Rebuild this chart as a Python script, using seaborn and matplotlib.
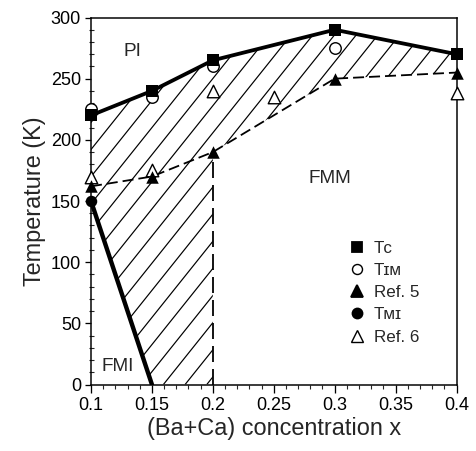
import matplotlib
matplotlib.use('Agg')
import matplotlib.pyplot as plt
import seaborn as sns
from matplotlib.lines import Line2D
from matplotlib.patches import Polygon
from matplotlib.collections import LineCollection

# ---- data ----
tc_x = [0.10, 0.15, 0.20, 0.30, 0.40]
tc_y = [220, 240, 265, 290, 270]
tim_x = [0.10, 0.15, 0.20, 0.30]
tim_y = [225, 235, 260, 275]
ref5_x = [0.10, 0.15, 0.20, 0.30, 0.40]
ref5_y = [162, 170, 190, 250, 255]
tmi_x = [0.10]
tmi_y = [150]
fmi_x = [0.10, 0.15]          # FMI boundary line (TMI -> 0 K)
fmi_y = [150, 0]
ref6_x = [0.10, 0.15, 0.20, 0.25, 0.40]
ref6_y = [170, 175, 240, 235, 238]
boundary_x = 0.20             # vertical dashed boundary
x_ticks = [0.1, 0.15, 0.2, 0.25, 0.3, 0.35, 0.4]
x_ticklabels = ['0.1', '0.15', '0.2', '0.25', '0.3', '0.35', '0.4']
y_ticks = [0, 50, 100, 150, 200, 250, 300]
legend_labels = ['T\u1d04', 'T\u026a\u1d0d', 'Ref. 5', 'T\u1d0d\u026a', 'Ref. 6']
region_labels = ['PI', 'FMM', 'FMI']
region_pos = [(0.1337, 272), (0.296, 168), (0.1218, 15)]

DPI = 130
PX = 72.0 / DPI   # points per pixel

sns.set_style('ticks')
plt.rcParams['font.family'] = ['Liberation Sans', 'DejaVu Sans']
plt.rcParams['lines.scale_dashes'] = False

fig = plt.figure(figsize=(476 / DPI, 451 / DPI), dpi=DPI)
ax = fig.add_axes([91 / 476, 1 - 384.5 / 451, 365.5 / 476, 367 / 451])
ax.set_xlim(0.1, 0.4)
ax.set_ylim(0, 300)

# hatched region (between Tc and the lower phase boundaries)
lower_x = [x for x in ref5_x[::-1] if x >= boundary_x]
lower_y = [y for x, y in zip(ref5_x[::-1], ref5_y[::-1]) if x >= boundary_x]
poly_x = tc_x + lower_x + [boundary_x, fmi_x[1], fmi_x[0]]
poly_y = tc_y + lower_y + [0, fmi_y[1], fmi_y[0]]
region = Polygon(list(zip(poly_x, poly_y)), closed=True, facecolor='none',
                 edgecolor='none', transform=ax.transData)
ax.add_patch(region)
# hatch styling: slanted lines (slope & spacing are style constants)
h_slope = 1245.0      # K per unit x
h_step = 0.01781      # horizontal spacing
h_phase = 0.15943
segs = []
for k in range(-20, 16):
    x0 = h_phase + k * h_step
    segs.append([(x0, 0), (x0 + 300 / h_slope, 300)])
hatch = LineCollection(segs, colors='black', linewidths=1.2 * PX, zorder=1)
ax.add_collection(hatch)
hatch.set_clip_path(region)

# lines
sns.lineplot(x=tc_x, y=tc_y, ax=ax, color='black', lw=3.8 * PX, sort=False,
             zorder=3, clip_on=False)
sns.lineplot(x=fmi_x, y=fmi_y, ax=ax, color='black', lw=4.4 * PX, sort=False,
             zorder=3)
sns.lineplot(x=ref5_x, y=ref5_y, ax=ax, color='black', lw=1.8 * PX, sort=False,
             linestyle=(0, (11 * PX, 5 * PX)), zorder=3)
ax.plot([boundary_x, boundary_x], [0, ref5_y[2]], color='black', lw=1.8 * PX,
        linestyle=(0, (16 * PX, 7 * PX)), zorder=3)

# markers
ms = 11.5 * PX
ew = 1.4 * PX
sns.scatterplot(x=tc_x, y=tc_y, ax=ax, marker='s', s=ms ** 2, color='black',
                edgecolor='black', linewidth=0, zorder=5, clip_on=False)
sns.scatterplot(x=tim_x, y=tim_y, ax=ax, marker='o', s=ms ** 2, facecolor='white',
                edgecolor='black', linewidth=ew, zorder=4, clip_on=False)
sns.scatterplot(x=ref5_x, y=ref5_y, ax=ax, marker='^', s=(12.5 * PX) ** 2,
                color='black', edgecolor='black', linewidth=0, zorder=5,
                clip_on=False)
sns.scatterplot(x=tmi_x, y=tmi_y, ax=ax, marker='o', s=ms ** 2, color='black',
                edgecolor='black', linewidth=0, zorder=5, clip_on=False)
sns.scatterplot(x=ref6_x, y=ref6_y, ax=ax, marker='^', s=(12.5 * PX) ** 2,
                facecolor='white', edgecolor='black', linewidth=ew, zorder=4,
                clip_on=False)

# region labels
for lab, (x, y) in zip(region_labels, region_pos):
    ax.text(x, y, lab, fontsize=19 * PX, ha='center', va='center', zorder=6)

# axes
ax.set_xlim(0.1, 0.4)
ax.set_ylim(0, 300)
ax.set_xticks(x_ticks)
ax.set_xticklabels(x_ticklabels)
ax.set_yticks(y_ticks)
ax.set_xticks([0.1 + 0.01 * i for i in range(31)], minor=True)
ax.set_yticks(list(range(0, 301, 10)), minor=True)
ax.tick_params(axis='both', which='major', labelsize=18 * PX, width=1.3 * PX,
               color='black', labelcolor='black', pad=4 * PX)
ax.tick_params(axis='x', which='major', direction='out', length=8 * PX)
ax.tick_params(axis='x', which='minor', direction='out', length=4 * PX,
               width=1.1 * PX)
ax.tick_params(axis='y', which='major', direction='out', length=6 * PX)
ax.tick_params(axis='y', which='minor', direction='inout', length=5 * PX,
               width=1.1 * PX)
for sp in ax.spines.values():
    sp.set_linewidth(1.5 * PX)
    sp.set_color('black')
ax.set_xlabel('(Ba+Ca) concentration x', fontsize=23.5 * PX, labelpad=3 * PX)
ax.set_ylabel('Temperature (K)', fontsize=23.5 * PX, labelpad=5 * PX)

# legend
handles = [
    Line2D([], [], marker='s', ls='none', color='black', markersize=10 * PX),
    Line2D([], [], marker='o', ls='none', markerfacecolor='white',
           markeredgecolor='black', markeredgewidth=ew, markersize=10 * PX),
    Line2D([], [], marker='^', ls='none', color='black', markersize=11 * PX),
    Line2D([], [], marker='o', ls='none', color='black', markersize=10 * PX),
    Line2D([], [], marker='^', ls='none', markerfacecolor='white',
           markeredgecolor='black', markeredgewidth=ew, markersize=11 * PX),
]
fs_leg = 17 * PX
leg = ax.legend(handles, legend_labels, loc='upper left',
                bbox_to_anchor=(350 / 476, 1 - 241 / 451),
                bbox_transform=fig.transFigure, frameon=False,
                fontsize=fs_leg, borderpad=0, borderaxespad=0,
                handlelength=0.8, handletextpad=0.6, labelspacing=0.42)

fig.savefig('out.png', dpi=DPI)
